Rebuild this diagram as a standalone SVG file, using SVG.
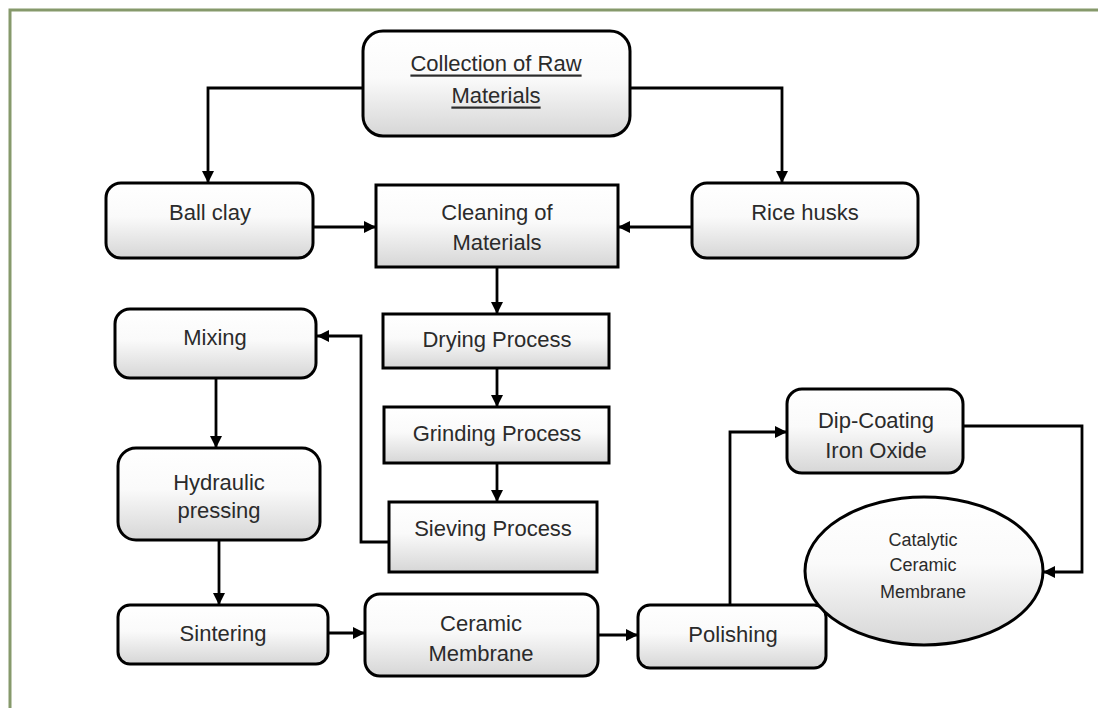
<svg xmlns="http://www.w3.org/2000/svg" width="1098" height="708" viewBox="0 0 1098 708">
<defs>
<linearGradient id="g" x1="0" y1="0" x2="0" y2="1">
<stop offset="0" stop-color="#ffffff"/>
<stop offset="0.45" stop-color="#fafafa"/>
<stop offset="1" stop-color="#d6d6d6"/>
</linearGradient>
<marker id="ah" viewBox="0 0 10 10" refX="10" refY="5" markerWidth="12" markerHeight="12" markerUnits="userSpaceOnUse" orient="auto">
<path d="M0,0 L10,5 L0,10 z" fill="#000"/>
</marker>
<style>
.box{fill:url(#g);stroke:#000;stroke-width:3}
.t{font-family:"Liberation Sans",Arial,sans-serif;font-size:22px;fill:#2b2b2b;text-anchor:middle;dominant-baseline:central}
.s{font-size:18px}
.c{fill:none;stroke:#000;stroke-width:2.8;marker-end:url(#ah)}
</style>
</defs>
<rect width="1098" height="708" fill="#fff"/>
<path d="M10,708 V10 H1098" fill="none" stroke="#86996b" stroke-width="3"/>

<g id="connectors">
<path class="c" d="M362,88 H208 V183"/>
<path class="c" d="M630,88 H782 V183"/>
<path class="c" d="M313,227 H376"/>
<path class="c" d="M692,227 H618"/>
<path class="c" d="M497,267 V314"/>
<path class="c" d="M497,368 V407"/>
<path class="c" d="M497,463 V502"/>
<path class="c" d="M389,542 H361 V336 H317"/>
<path class="c" d="M216,378 V448"/>
<path class="c" d="M219,540 V605"/>
<path class="c" d="M328,633 H365"/>
<path class="c" d="M598,635 H638"/>
<path class="c" d="M730,605 V432 H787"/>
<path class="c" d="M963,426 H1082 V572 H1043"/>
</g>

<g id="collection">
<rect class="box" x="363" y="31" width="267" height="105" rx="20"/>
<text class="t" x="496" y="63" text-decoration="underline">Collection of Raw</text>
<text class="t" x="496" y="95" text-decoration="underline">Materials</text>
</g>
<g id="ballclay">
<rect class="box" x="106" y="183" width="207" height="75" rx="15"/>
<text class="t" x="210" y="212">Ball clay</text>
</g>
<g id="cleaning">
<rect class="box" x="376" y="185" width="242" height="82"/>
<text class="t" x="497" y="212">Cleaning of</text>
<text class="t" x="497" y="242">Materials</text>
</g>
<g id="ricehusks">
<rect class="box" x="692" y="183" width="226" height="75" rx="15"/>
<text class="t" x="805" y="212">Rice husks</text>
</g>
<g id="drying">
<rect class="box" x="383" y="314" width="226" height="54"/>
<text class="t" x="497" y="339">Drying Process</text>
</g>
<g id="grinding">
<rect class="box" x="384" y="407" width="225" height="56"/>
<text class="t" x="497" y="433">Grinding Process</text>
</g>
<g id="sieving">
<rect class="box" x="389" y="502" width="208" height="70"/>
<text class="t" x="493" y="528">Sieving Process</text>
</g>
<g id="mixing">
<rect class="box" x="115" y="309" width="201" height="69" rx="15"/>
<text class="t" x="215" y="337">Mixing</text>
</g>
<g id="hydraulic">
<rect class="box" x="118" y="448" width="202" height="92" rx="18"/>
<text class="t" x="219" y="482">Hydraulic</text>
<text class="t" x="219" y="510">pressing</text>
</g>
<g id="sintering">
<rect class="box" x="118" y="605" width="210" height="59" rx="12"/>
<text class="t" x="223" y="633">Sintering</text>
</g>
<g id="ceramic">
<rect class="box" x="365" y="594" width="233" height="82" rx="15"/>
<text class="t" x="481" y="623">Ceramic</text>
<text class="t" x="481" y="653">Membrane</text>
</g>
<g id="polishing">
<rect class="box" x="638" y="605" width="188" height="63" rx="12"/>
<text class="t" x="733" y="634">Polishing</text>
</g>
<g id="dipcoating">
<rect class="box" x="787" y="389" width="176" height="84" rx="15"/>
<text class="t" x="876" y="420">Dip-Coating</text>
<text class="t" x="876" y="450">Iron Oxide</text>
</g>
<g id="catalytic">
<ellipse class="box" cx="924" cy="571" rx="119" ry="74"/>
<text class="t s" x="923" y="540">Catalytic</text>
<text class="t s" x="923" y="565">Ceramic</text>
<text class="t s" x="923" y="592">Membrane</text>
</g>
</svg>
